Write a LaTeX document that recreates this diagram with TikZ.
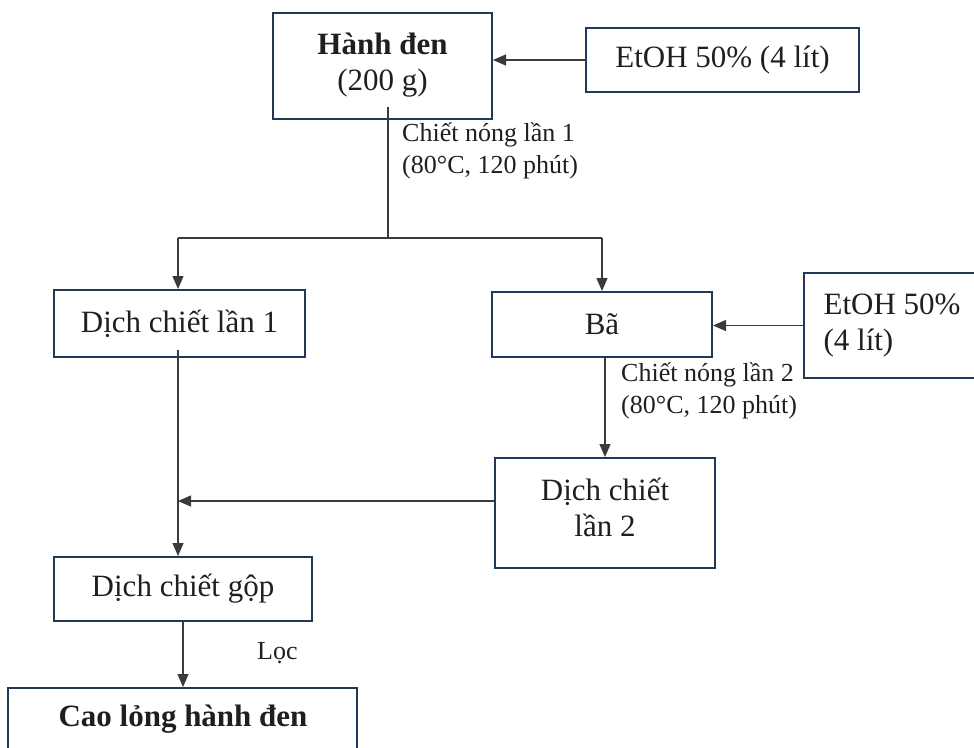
\documentclass[tikz,border=0pt]{standalone}
\usepackage{fontspec}
\setmainfont{Liberation Serif}
\usetikzlibrary{arrows.meta}
\definecolor{boxc}{HTML}{1F3A56}
\definecolor{linec}{HTML}{3A3A3A}
\begin{document}
\begin{tikzpicture}[x=1pt,y=-1pt,
  box/.style={draw=boxc, line width=2pt, rectangle, inner sep=0pt, align=center,
              font=\fontsize{31pt}{36pt}\selectfont, text=black!88},
  txt/.style={inner sep=0pt, align=center, font=\fontsize{31pt}{36pt}\selectfont, text=black!88},
  lab/.style={inner sep=0pt, align=left, font=\fontsize{26pt}{32pt}\selectfont, text=black!88},
  con/.style={draw=linec, line width=1.2pt},
  arr/.style={con, -{Triangle[length=13pt,width=11pt]}}]
\useasboundingbox (0,0) rectangle (974,747);
\clip (0,0) rectangle (974,747);
% boxes
\node[box, minimum width=219pt, minimum height=106pt] (hanh) at (382.5,66) {};
\node[txt] (hanht) at (382.5,65) {\textbf{Hành đen}\\(200 g)};
\node[box, minimum width=273pt, minimum height=64pt] (etoh1) at (722.5,60) {EtOH 50\% (4 lít)};
\node[box, minimum width=251pt, minimum height=67pt] (dich1) at (179.5,323.5) {Dịch chiết lần 1};
\node[box, minimum width=220pt, minimum height=65pt] (ba) at (602,324.5) {Bã};
\node[box, minimum width=176pt, minimum height=105pt, align=left] (etoh2) at (892,325.5) {EtOH 50\%\\(4 lít)};
\node[box, minimum width=220pt, minimum height=110pt] (dich2) at (605,513) {};
\node[txt] (dich2t) at (605,507) {Dịch chiết\\lần 2};
\node[box, minimum width=258pt, minimum height=64pt] (gop) at (183,589) {Dịch chiết gộp};
\node[box, minimum width=349pt, minimum height=80pt] (cao) at (182.5,728) {};
\node[txt] (caot) at (183,719) {\textbf{Cao lỏng hành đen}};
% labels
\node[lab, anchor=west] (l1) at (402,151) {Chiết nóng lần 1\\(80°C, 120 phút)};
\node[lab, anchor=west] (l2) at (621,391) {Chiết nóng lần 2\\(80°C, 120 phút)};
\node[lab, anchor=west] (l3) at (257,653) {Lọc};
% connectors
\coordinate (s0) at (388,107);
\coordinate (split) at (388,238);
\coordinate (sl) at (178,238);
\coordinate (sr) at (602,238);
\draw[con] (s0) -- (split);
\draw[con] (sl) -- (sr);
\draw[arr] (sl) -- (sl |- dich1.north);
\draw[arr] (sr) -- (sr |- ba.north);
\draw[arr] (etoh1.west) -- (hanh.east |- etoh1.west);
\draw[arr] (etoh2.west) -- (ba.east |- etoh2.west);
\draw[arr] (dich2.north |- ba.south) -- (dich2.north);
\coordinate (d1s) at (178,350);
\coordinate (join) at (178,501);
\draw[arr] (d1s) -- (d1s |- gop.north);
\draw[arr] (dich2.west |- join) -- (join);
\draw[arr] (gop.south) -- (gop.south |- cao.north);
\end{tikzpicture}
\end{document}
